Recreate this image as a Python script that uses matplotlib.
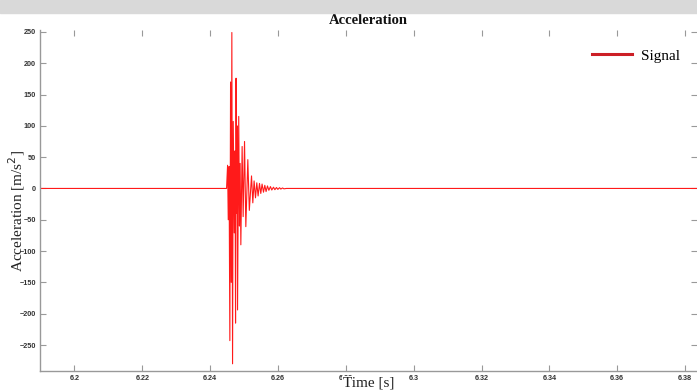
import matplotlib
matplotlib.use("Agg")
import matplotlib.pyplot as plt
from matplotlib.patches import Rectangle
import numpy as np

# Zeitpunkte (s) und Beschleunigung (m/s^2)
zeit = [6.1900, 6.24485, 6.24515, 6.24535, 6.24559, 6.24582, 6.24603, 6.24623, 6.24641,
        6.24662, 6.24682, 6.24712, 6.24735, 6.24750, 6.24765, 6.24782, 6.24794, 6.24809,
        6.24844, 6.24865, 6.24885, 6.24906, 6.24944, 6.24974, 6.25015, 6.25053, 6.25112,
        6.25156, 6.25221, 6.25259, 6.25297, 6.25338, 6.25376, 6.25415, 6.25456, 6.25494,
        6.25532, 6.25574, 6.25612, 6.25650, 6.25691, 6.25732, 6.25779, 6.25818, 6.25868,
        6.25909, 6.25956, 6.25997, 6.26047, 6.26085, 6.26135, 6.26176, 6.26250, 6.3835]
beschl = [0, 0, 37, -50, 35, -243, 170, -150, 249,
          -280, 107, -71, 60, -215, 176, -40, 100, -194,
          115, -60, 40, -90, 67, -45, 75, -61, 46,
          -35, 20, -23, 12, -15, 9, -12, 8, -8,
          7, -6, 5, -5, 4, -3, 3, -2.5, 2,
          -2, 1.5, -1.5, 1.2, -1, 0.8, -0.6, 0, 0]

x_ticks = [6.2, 6.22, 6.24, 6.26, 6.28, 6.3, 6.32, 6.34, 6.36, 6.38]
y_ticks = [-250, -200, -150, -100, -50, 0, 50, 100, 150, 200, 250]

fig = plt.figure(figsize=(6.97, 3.9), dpi=100)
fig.patches.append(Rectangle((0, 377 / 390), 1, 13 / 390, transform=fig.transFigure,
                             color="#d9d9d9", zorder=0))

ax = fig.add_axes([40 / 697, 19 / 390, 657 / 697, 341 / 390])
ax.plot(zeit, beschl, color="#ff1a1a", linewidth=0.8)
ax.plot([], [], color="#cc1f26", linewidth=2.2, label="Signal")

ax.set_xlim(6.18986, 6.38352)
ax.set_ylim(-291.5, 253)
ax.set_xticks(x_ticks)
ax.set_xticklabels(["%g" % t for t in x_ticks])
ax.set_yticks(y_ticks)

for lab in ax.get_xticklabels() + ax.get_yticklabels():
    lab.set_fontfamily("Liberation Sans")
    lab.set_fontweight("bold")
    lab.set_fontsize(5.2)
    lab.set_color("#333333")

ax.tick_params(direction="in", length=4, width=0.8, color="#999999",
               top=True, right=True, pad=3)
for s in ["top", "right"]:
    ax.spines[s].set_visible(False)
for s in ["left", "bottom"]:
    ax.spines[s].set_color("#999999")
    ax.spines[s].set_linewidth(1.0)

ax.set_title("Acceleration", fontfamily="Liberation Serif", fontweight="bold",
             fontsize=10.5, pad=4, color="#111111")
# x-Titel mit weissem Hintergrund, verdeckt die Zahlen wie im Original
ax.set_xlabel("Time [s]", fontfamily="Liberation Serif", fontsize=11, color="#222222",
              bbox=dict(facecolor="white", edgecolor="none", pad=0.5))
ax.xaxis.set_label_coords(0.5, -12 / 341)
ax.xaxis.label.set_va("center")
ax.set_ylabel("Acceleration [m/s$^2$]", fontfamily="Liberation Serif", fontsize=11,
              color="#222222")
ax.yaxis.set_label_coords(-23 / 657, 0.47)
ax.yaxis.label.set_va("center")

leg = ax.legend(loc="upper right", frameon=False, handlelength=2.6,
                prop={"family": "Liberation Serif", "size": 11},
                bbox_to_anchor=(0.995, 0.985), handletextpad=0.6)

fig.savefig("out.png", dpi=100)
